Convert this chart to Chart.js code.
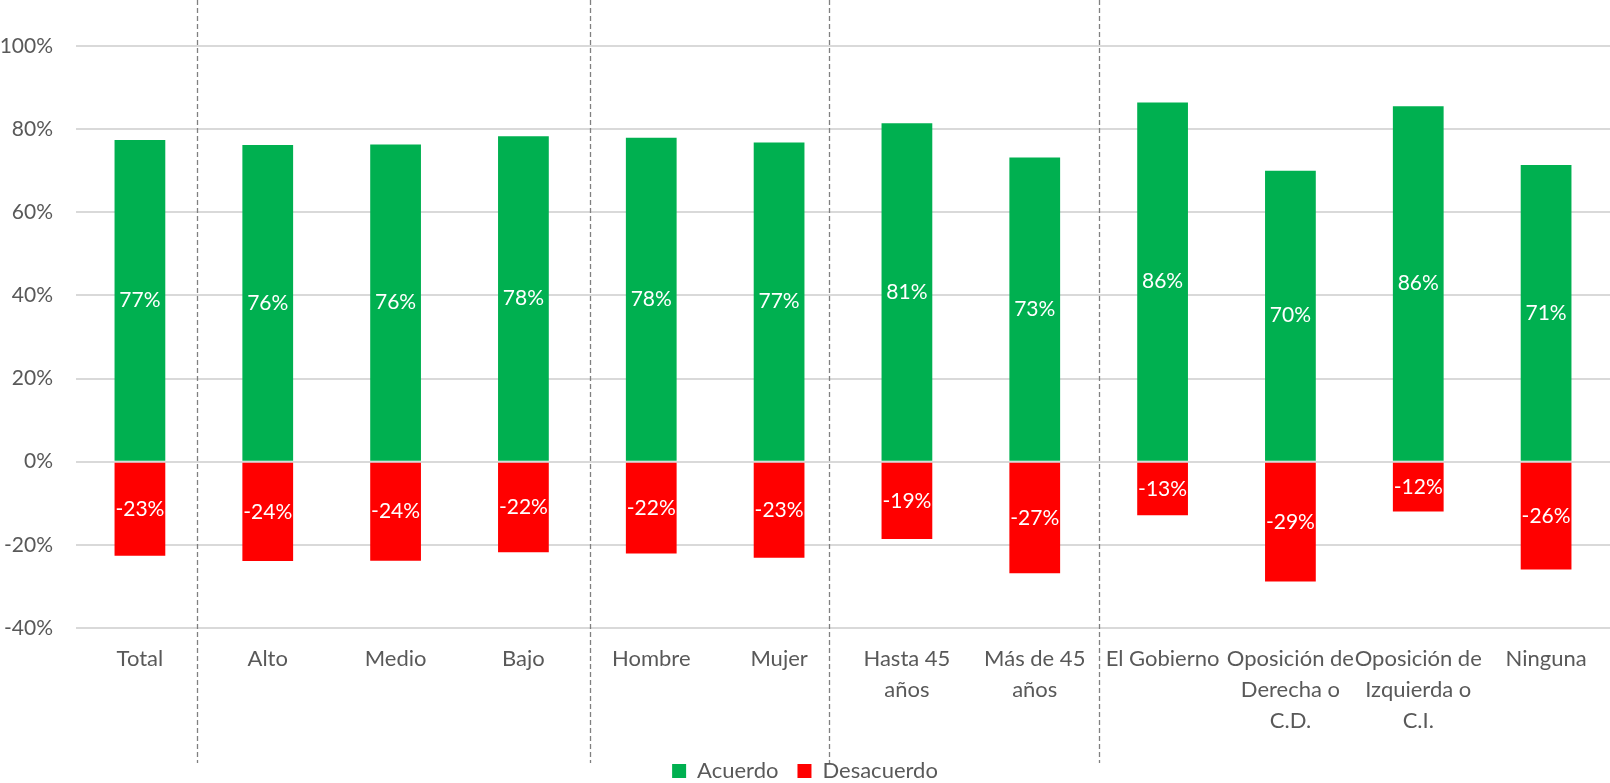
<!DOCTYPE html>
<html>
<head>
<meta charset="utf-8">
<script src="https://cdn.jsdelivr.net/npm/chart.js@4/dist/chart.umd.min.js"></script>
<style>
  html, body { margin: 0; padding: 0; background: #fff; }
  #wrap { width: 1610px; height: 783px; }
</style>
</head>
<body>
<div id="wrap"><canvas id="myChart"></canvas></div>
<script>
// Categorías (etiquetas del eje X, con saltos de línea)
var categorias = [
    'Total', 'Alto', 'Medio', 'Bajo', 'Hombre', 'Mujer',
    ['Hasta 45', 'años'], ['Más de 45', 'años'], 'El Gobierno',
    ['Oposición de', 'Derecha o', 'C.D.'], ['Oposición de', 'Izquierda o', 'C.I.'], 'Ninguna'
];

// Valores de cada serie (%)
var acuerdo    = [77.4, 76.2, 76.3, 78.3, 77.9, 76.8, 81.4, 73.2, 86.4, 70.0, 85.5, 71.4];
var desacuerdo = [-22.6, -23.9, -23.8, -21.8, -22.1, -23.1, -18.6, -26.8, -12.9, -28.8, -12.0, -25.9];

// Marcas del eje Y
var ticksY = [-40, -20, 0, 20, 40, 60, 80, 100];

// Separadores entre grupos (posición en el eje de categorías)
var separadores = [0.444, 3.519, 5.389, 7.499];

var fuente = 'Lato, "Liberation Sans", sans-serif';
var gris = '#595959';

// Etiquetas de datos blancas dentro de cada barra
var etiquetasPlugin = {
    id: 'etiquetas',
    afterDatasetsDraw: function(chart) {
        var ctx = chart.ctx;
        ctx.save();
        ctx.fillStyle = '#ffffff';
        ctx.font = '21px ' + fuente;
        ctx.textAlign = 'center';
        ctx.textBaseline = 'middle';
        chart.data.datasets.forEach(function(ds, i) {
            chart.getDatasetMeta(i).data.forEach(function(bar, j) {
                var y = (bar.y + bar.base) / 2;
                ctx.fillText(Math.round(ds.data[j]) + '%', bar.x, y);
            });
        });
        ctx.restore();
    }
};

// Líneas discontinuas verticales entre grupos
var separadoresPlugin = {
    id: 'separadores',
    afterDraw: function(chart) {
        var ctx = chart.ctx;
        var x = chart.scales.x;
        ctx.save();
        ctx.strokeStyle = '#808080';
        ctx.lineWidth = 1.3;
        ctx.setLineDash([5, 3]);
        separadores.forEach(function(v) {
            var px = Math.round(x.getPixelForValue(v)) + 0.5;
            ctx.beginPath();
            ctx.moveTo(px, 0);
            ctx.lineTo(px, 763);
            ctx.stroke();
        });
        ctx.restore();
    }
};

var ctx = document.getElementById('myChart').getContext('2d');

var data = {
    labels: categorias,
    datasets: [{
        label: 'Acuerdo',
        data: acuerdo,
        backgroundColor: 'rgb(0, 176, 80)',
        barPercentage: 0.397,
        categoryPercentage: 1
    }, {
        label: 'Desacuerdo',
        data: desacuerdo,
        backgroundColor: 'rgb(255, 0, 0)',
        barPercentage: 0.397,
        categoryPercentage: 1
    }]
};

var options = {
    responsive: true,
    maintainAspectRatio: false,
    animation: false,
    layout: { padding: { top: 46, right: 0, left: 0, bottom: -9 } },
    plugins: {
        legend: {
            position: 'bottom',
            labels: {
                color: gris,
                font: { family: fuente, size: 22 },
                boxWidth: 14,
                boxHeight: 14,
                padding: 19
            }
        },
        tooltip: { enabled: false }
    },
    scales: {
        x: {
            stacked: true,
            grid: { display: false },
            border: { display: false },
            ticks: {
                color: gris,
                font: { family: fuente, size: 22, lineHeight: 1.42 },
                padding: 7,
                maxRotation: 0,
                autoSkip: false
            },
            afterFit: function(scale) { scale.height = 113; }
        },
        y: {
            stacked: true,
            min: -40,
            max: 100,
            afterBuildTicks: function(scale) {
                scale.ticks = ticksY.map(function(v) { return { value: v }; });
            },
            grid: { color: '#d9d9d9', lineWidth: 2, drawTicks: false },
            border: { display: false },
            ticks: {
                color: gris,
                font: { family: fuente, size: 21 },
                padding: 23,
                callback: function(v) { return v + '%'; }
            },
            afterFit: function(scale) { scale.width = 76; }
        }
    }
};

var myChart = new Chart(ctx, {
    type: 'bar',
    data: data,
    options: options,
    plugins: [etiquetasPlugin, separadoresPlugin]
});
</script>
</body>
</html>
